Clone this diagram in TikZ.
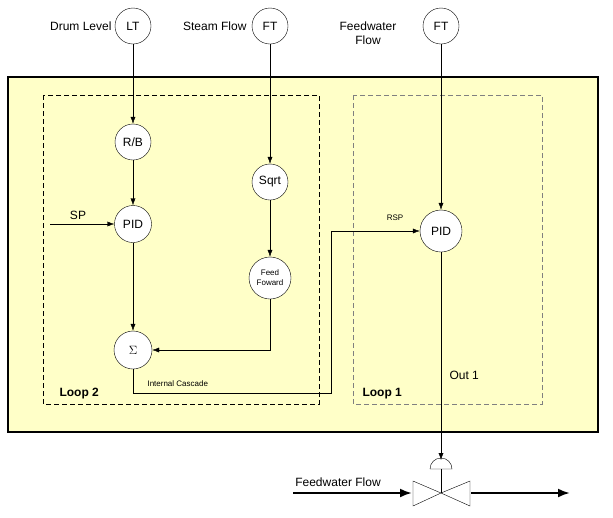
\documentclass[tikz,border=0pt]{standalone}
\usepackage{fontspec}
\setmainfont{Liberation Sans}
\usetikzlibrary{arrows.meta}
\begin{document}
\begin{tikzpicture}[x=1pt,y=-1pt,
  inst/.style={circle,draw,fill=white,minimum size=36pt,inner sep=0pt,font=\fontsize{12}{13}\selectfont},
  arr/.style={-{Latex[length=7pt,width=5pt]}},
  lbl/.style={font=\fontsize{12}{14}\selectfont},
  dsh/.style={dash pattern=on 5pt off 3pt},
  big/.style={-{Latex[length=12pt,width=9pt]},line width=2.2pt}]
\useasboundingbox (0,0) rectangle (613,517);
\draw[line width=2.5pt,fill={rgb,255:red,255;green,255;blue,200}] (8,77) rectangle (598,432);
\draw[dsh] (43,95) rectangle (319,404);
\draw[dsh,gray] (353,95) rectangle (542,404);
\node[inst] (lt) at (133,26) {LT};
\node[inst] (ft1) at (270,26) {FT};
\node[inst] (ft2) at (441,26) {FT};
\node[inst] (rb) at (133,142) {R/B};
\node[inst,minimum size=37pt] (pid) at (133,224) {PID};
\node[inst] (sqrt) at (270,182) {Sqrt};
\node[inst,minimum size=42pt,font=\fontsize{8}{10}\selectfont,align=center] (ff) at (270,278) {Feed\\Foward};
\node[inst,minimum size=38pt] (sum) at (133,350) {$\Sigma$};
\node[inst,minimum size=42pt] (pid1) at (441,231) {PID};
\node[lbl,anchor=east] at (115,26) {Drum Level};
\node[lbl,anchor=east] at (250,26) {Steam Flow};
\node[lbl,align=center] at (368,33) {Feedwater\\Flow};
\coordinate (sp) at (50,224);
\node[lbl] at (78,215) {SP};
\node[font=\fontsize{8}{10}\selectfont] at (395,218) {RSP};
\node[font=\fontsize{8}{10}\selectfont,anchor=west] at (144,384) {Internal Cascade};
\node[lbl,anchor=west] at (446,375) {Out 1};
\node[font=\fontsize{12}{14}\bfseries\selectfont,anchor=west] at (56,394) {Loop 2};
\node[font=\fontsize{12}{14}\bfseries\selectfont,anchor=west] at (359,394) {Loop 1};
\draw[arr] (lt) -- (rb);
\draw[arr] (rb) -- (pid);
\draw[arr] (sp) -- (pid);
\draw[arr] (pid) -- (sum);
\draw[arr] (ft1) -- (sqrt);
\draw[arr] (sqrt) -- (ff);
\draw[arr] (ff.south) |- (sum);
\draw[arr] (sum.south) |- (331,393) |- (pid1);
\draw[arr] (ft2) -- (pid1);
% valve
\coordinate (vc) at (441,493);
\coordinate (act) at (441,460);
\draw[arr] (pid1) -- (act);
\draw (vc) -- (441,469);
\draw (430,469) arc[start angle=180,end angle=360,radius=11] -- cycle;
\draw (vc) -- (413,481) -- (413,506) -- cycle;
\draw (vc) -- (470,481) -- (470,506) -- cycle;
\node[lbl] (fwf) at (338,482) {Feedwater Flow};
\coordinate (in) at (293,493);
\coordinate (out) at (570,493);
\draw[big] (in) -- (412,493);
\draw[big] (471,493) -- (out);
\end{tikzpicture}
\end{document}
